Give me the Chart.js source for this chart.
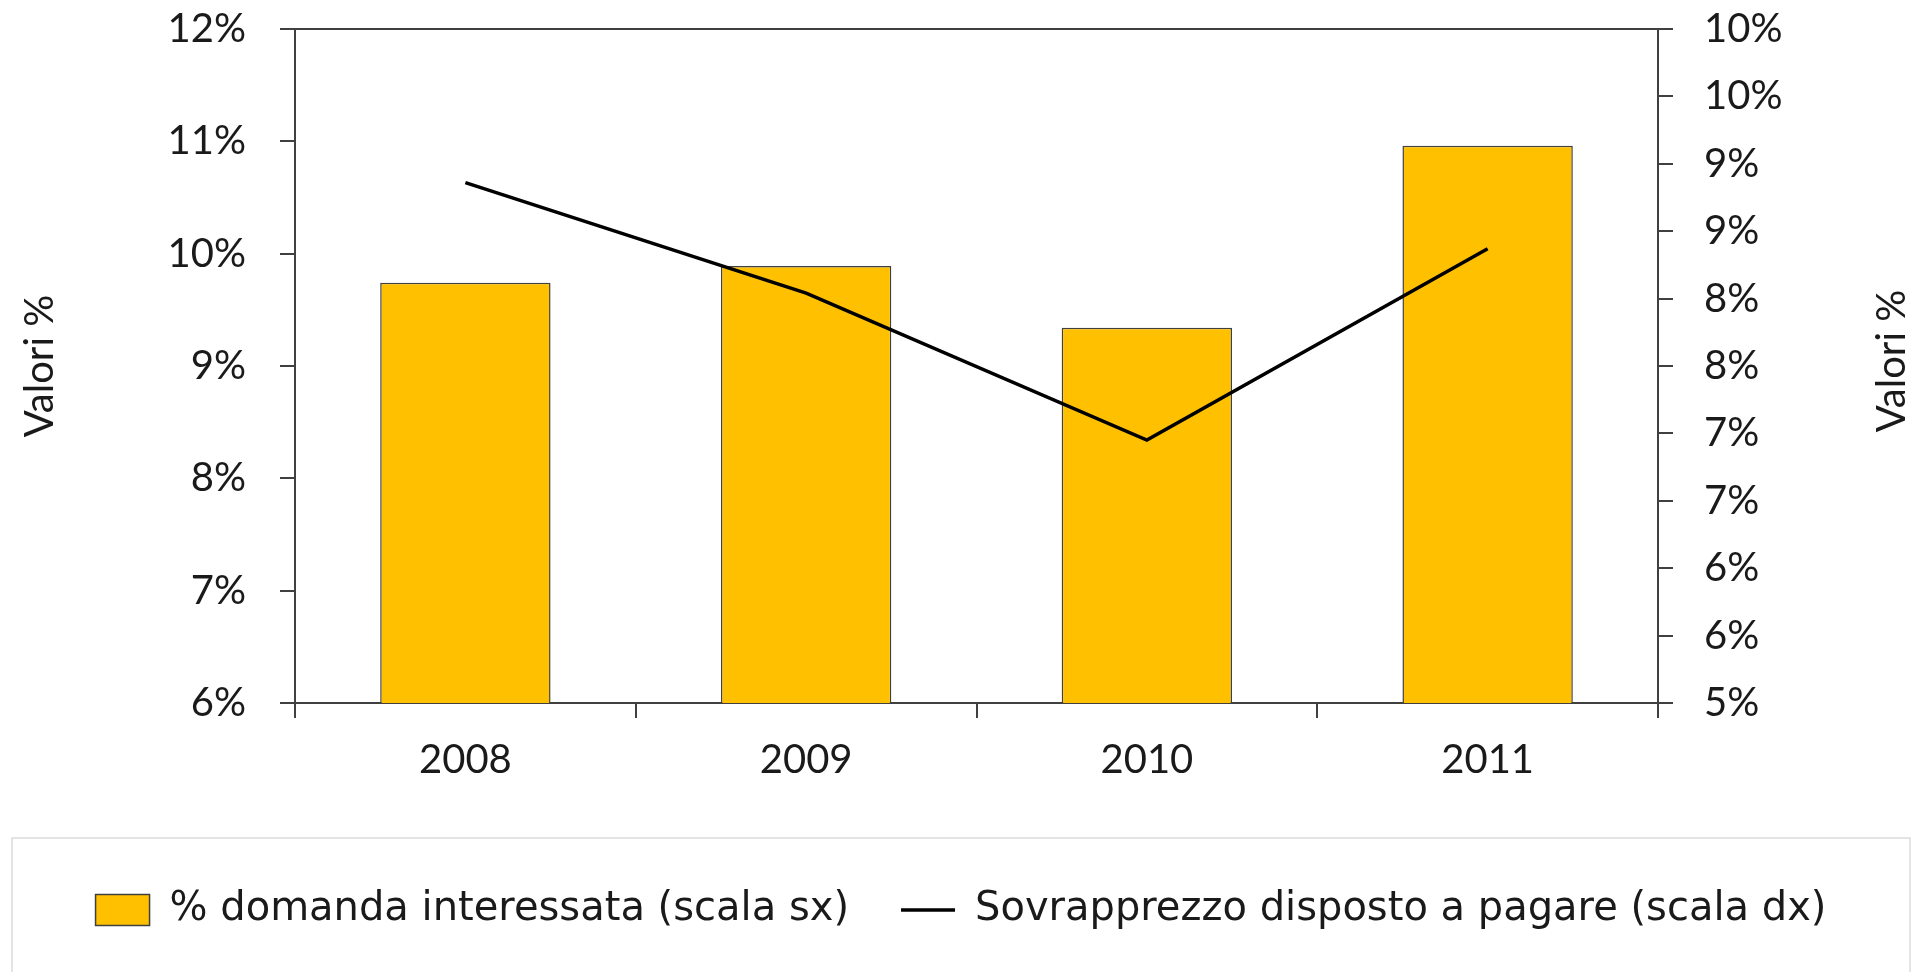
<!DOCTYPE html>
<html>
<head>
<meta charset="utf-8">
<script src="https://cdn.jsdelivr.net/npm/chart.js@4.4.1/dist/chart.umd.min.js"></script>
<style>
  html, body { margin: 0; padding: 0; background: #fff; }
  #wrap { width: 1926px; height: 972px; }
</style>
</head>
<body>
<div id="wrap"><canvas id="chart"></canvas></div>
<script>
// dati
const years = ['2008', '2009', '2010', '2011'];
const domandaInteressata = [9.74, 9.89, 9.34, 10.96];   // scala sx
const sovrapprezzo = [8.86, 8.04, 6.95, 8.37];           // scala dx
const leftTicks = [6, 7, 8, 9, 10, 11, 12];
const rightTicks = [5, 5.5, 6, 6.5, 7, 7.5, 8, 8.5, 9, 9.5, 10];

const labelBar = '% domanda interessata (scala sx)';
const labelLine = 'Sovrapprezzo disposto a pagare (scala dx)';
const axisTitle = 'Valori %';

const FONT = 'Lato, "Open Sans", sans-serif';
const LEGEND_FONT = '"DejaVu Sans", sans-serif';
const AXIS = '#404040';

// cornice della legenda + titolo asse destro (letto dal basso verso l'alto)
const extras = {
  id: 'extras',
  afterDraw(chart) {
    const ctx = chart.ctx;
    const lg = chart.legend;
    ctx.save();
    ctx.strokeStyle = '#dcdcdc';
    ctx.lineWidth = 1.5;
    ctx.strokeRect(lg.left, lg.top, lg.width, chart.height - lg.top + 10);

    const s = chart.scales.y2;
    const ca = chart.chartArea;
    ctx.translate(s.right - 18, (ca.top + ca.bottom) / 2 - 5);
    ctx.rotate(-Math.PI / 2);
    ctx.font = '40px ' + FONT;
    ctx.fillStyle = '#1a1a1a';
    ctx.textAlign = 'center';
    ctx.textBaseline = 'middle';
    ctx.fillText(axisTitle, 0, 0);
    ctx.restore();
  }
};

// niente spazio extra sopra/sotto gli assi verticali
function noVertPadding(scale) {
  scale.paddingTop = 0;
  scale.paddingBottom = 0;
}

const ctx = document.getElementById('chart').getContext('2d');
new Chart(ctx, {
  data: {
    labels: years,
    datasets: [
      {
        type: 'line',
        label: labelLine,
        data: sovrapprezzo,
        yAxisID: 'y2',
        borderColor: '#000',
        backgroundColor: '#000',
        borderWidth: 3.5,
        pointRadius: 0,
        tension: 0,
        order: 0
      },
      {
        type: 'bar',
        label: labelBar,
        data: domandaInteressata,
        yAxisID: 'y',
        backgroundColor: '#FFC000',
        borderColor: AXIS,
        borderWidth: 1.5,
        categoryPercentage: 1,
        barPercentage: 0.5,
        order: 1
      }
    ]
  },
  options: {
    responsive: true,
    maintainAspectRatio: false,
    animation: false,
    layout: { padding: { left: 12, right: 16, top: 29, bottom: 32 } },
    plugins: {
      tooltip: { enabled: false },
      legend: {
        position: 'bottom',
        reverse: true,
        labels: {
          font: { family: LEGEND_FONT, size: 40 },
          color: '#1a1a1a',
          usePointStyle: true,
          pointStyleWidth: 54,
          boxHeight: 31,
          padding: 52,
          generateLabels(chart) {
            const items = Chart.defaults.plugins.legend.labels.generateLabels(chart);
            items.forEach(it => {
              const ds = chart.data.datasets[it.datasetIndex];
              if (ds.type === 'line') {
                it.pointStyle = 'line';
                it.lineWidth = ds.borderWidth;
                it.strokeStyle = ds.borderColor;
              } else {
                it.pointStyle = 'rect';
                it.lineWidth = ds.borderWidth;
              }
            });
            return items;
          }
        }
      }
    },
    scales: {
      x: {
        offset: true,
        grid: {
          offset: true,
          drawOnChartArea: false,
          tickLength: 15,
          tickColor: AXIS,
          lineWidth: 2
        },
        border: { color: AXIS, width: 2 },
        ticks: { font: { family: FONT, size: 40 }, color: '#1a1a1a', padding: 18 },
        afterFit(scale) { scale.height = 135; }
      },
      y: {
        position: 'left',
        min: 6,
        max: 12,
        afterBuildTicks(scale) { scale.ticks = leftTicks.map(v => ({ value: v })); },
        grid: {
          drawOnChartArea: true,
          color: c => (c.tick && c.tick.value === 12 ? AXIS : 'rgba(0,0,0,0)'),
          tickColor: AXIS,
          tickLength: 15,
          lineWidth: 2
        },
        border: { color: AXIS, width: 2 },
        ticks: {
          font: { family: FONT, size: 40 },
          color: '#1a1a1a',
          padding: 34,
          callback: v => v + '%'
        },
        title: {
          display: true,
          text: axisTitle,
          font: { family: FONT, size: 40 },
          color: '#1a1a1a',
          padding: { top: 4, bottom: 0 }
        },
        afterFit(scale) { scale.width = 283; noVertPadding(scale); }
      },
      y2: {
        position: 'right',
        min: 5,
        max: 10,
        afterBuildTicks(scale) { scale.ticks = rightTicks.map(v => ({ value: v })); },
        grid: {
          drawOnChartArea: false,
          tickColor: AXIS,
          tickLength: 15,
          lineWidth: 2
        },
        border: { color: AXIS, width: 2 },
        ticks: {
          font: { family: FONT, size: 40 },
          color: '#1a1a1a',
          padding: 31,
          callback: v => Math.round(v) + '%'
        },
        afterFit(scale) { scale.width = 252; noVertPadding(scale); }
      }
    }
  },
  plugins: [extras]
});
</script>
</body>
</html>
